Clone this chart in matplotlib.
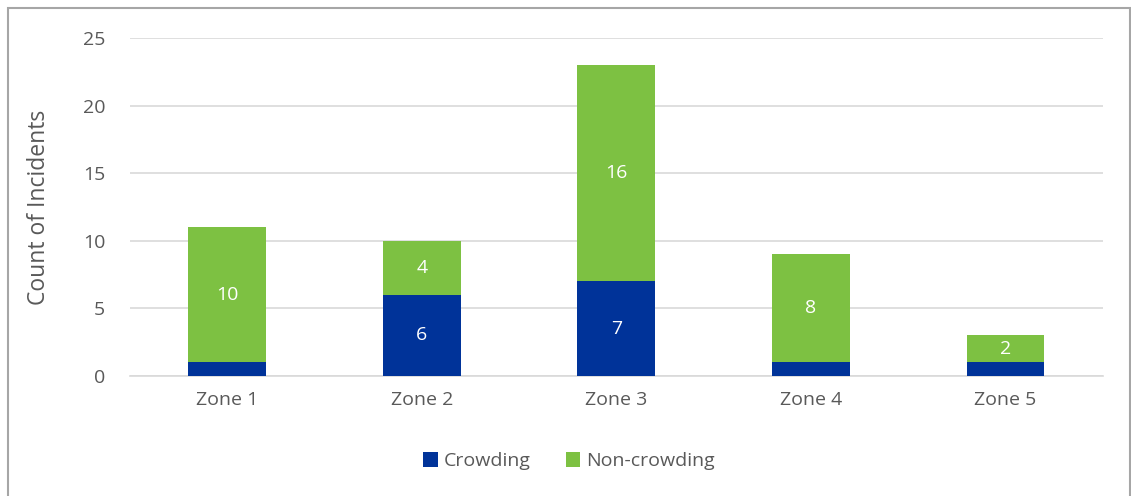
import matplotlib
matplotlib.use("Agg")
import matplotlib.pyplot as plt
from matplotlib.patches import Rectangle
import numpy as np

zones = ["Zone 1", "Zone 2", "Zone 3", "Zone 4", "Zone 5"]
crowding = [1, 6, 7, 1, 1]
non_crowding = [10, 4, 16, 8, 2]
y_ticks = [0, 5, 10, 15, 20, 25]

navy = "#003399"
green = "#7DC142"
text_gray = "#595959"
grid_gray = "#D9D9D9"

plt.rcParams["font.family"] = ["Open Sans", "DejaVu Sans"]

fig = plt.figure(figsize=(11.31, 4.96), dpi=100)
ax = fig.add_axes([0.115, 0.242, 0.86, 0.681])

x = np.arange(len(zones))
width = 0.4
b1 = ax.bar(x, crowding, width, color=navy, label="Crowding", zorder=3)
b2 = ax.bar(x, non_crowding, width, bottom=crowding, color=green,
            label="Non-crowding", zorder=3)

# value labels inside segments (single-unit segments too thin to label)
for xi, c, n in zip(x, crowding, non_crowding):
    if c > 1:
        ax.text(xi, c / 2, str(c), ha="center", va="center",
                color="white", fontsize=14, zorder=4)
    if n > 1:
        ax.text(xi, c + n / 2, str(n), ha="center", va="center",
                color="white", fontsize=14, zorder=4)

ax.set_xlim(-0.5, len(zones) - 0.5)
ax.set_ylim(0, 25)
ax.set_yticks(y_ticks)
ax.set_xticks(x)
ax.set_xticklabels(zones)
ax.tick_params(axis="both", length=0, labelsize=14, colors=text_gray)
ax.tick_params(axis="x", pad=11)
ax.tick_params(axis="y", pad=18)
ax.yaxis.grid(True, color=grid_gray, linewidth=1.2, zorder=0)
ax.set_axisbelow(True)
for side in ["top", "right", "left"]:
    ax.spines[side].set_visible(False)
ax.spines["bottom"].set_color(grid_gray)
ax.spines["bottom"].set_linewidth(1.2)

ax.set_ylabel("Count of Incidents", fontsize=16.5, color=text_gray, labelpad=23)

leg = fig.legend(handles=[b1, b2], loc="center", bbox_to_anchor=(0.503, 0.07),
                 ncol=2, frameon=False, fontsize=14, handlelength=0.75,
                 handleheight=0.75, handletextpad=0.3, columnspacing=1.8)
for t in leg.get_texts():
    t.set_color(text_gray)

# outer frame around the chart area
fig.patches.append(Rectangle((8 / 1131, -0.05), 1121.5 / 1131, 1 - 8 / 496 + 0.05,
                             transform=fig.transFigure, fill=False,
                             edgecolor="#A6A6A6", linewidth=1.5))

fig.savefig("out.png", dpi=100)
